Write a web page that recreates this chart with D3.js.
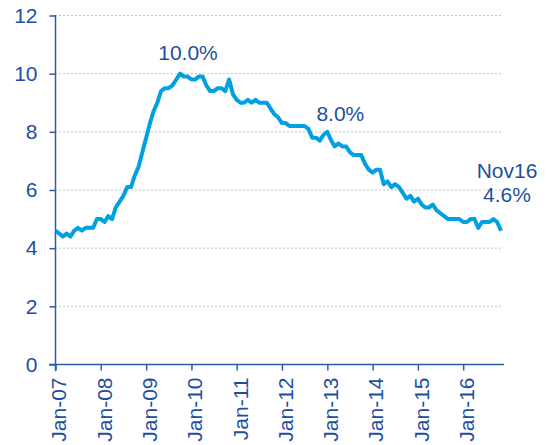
<!DOCTYPE html>
<html>
<head>
<meta charset="utf-8">
<script src="https://cdn.jsdelivr.net/npm/d3@7"></script>
<style>
  body { margin: 0; background: #fff; }
  svg { display: block; font-family: "Liberation Sans", Arial, sans-serif; }
</style>
</head>
<body>
<svg id="chart" width="550" height="445"></svg>
<script>
// US unemployment rate, monthly, Jan 2007 - Nov 2016 (%)
const startYear = 2007;
const rates = [
  4.6, 4.5, 4.4, 4.5, 4.4, 4.6, 4.7, 4.6, 4.7, 4.7, 4.7, 5.0,
  5.0, 4.9, 5.1, 5.0, 5.4, 5.6, 5.8, 6.1, 6.1, 6.5, 6.8, 7.3,
  7.8, 8.3, 8.7, 9.0, 9.4, 9.5, 9.5, 9.6, 9.8, 10.0, 9.9, 9.9,
  9.8, 9.8, 9.9, 9.9, 9.6, 9.4, 9.4, 9.5, 9.5, 9.4, 9.8, 9.3,
  9.1, 9.0, 9.0, 9.1, 9.0, 9.1, 9.0, 9.0, 9.0, 8.8, 8.6, 8.5,
  8.3, 8.3, 8.2, 8.2, 8.2, 8.2, 8.2, 8.1, 7.8, 7.8, 7.7, 7.9,
  8.0, 7.7, 7.5, 7.6, 7.5, 7.5, 7.3, 7.2, 7.2, 7.2, 6.9, 6.7,
  6.6, 6.7, 6.7, 6.2, 6.3, 6.1, 6.2, 6.1, 5.9, 5.7, 5.8, 5.6,
  5.7, 5.5, 5.4, 5.4, 5.5, 5.3, 5.2, 5.1, 5.0, 5.0, 5.0, 5.0,
  4.9, 4.9, 5.0, 5.0, 4.7, 4.9, 4.9, 4.9, 5.0, 4.9, 4.6
];
const yTicks = [0, 2, 4, 6, 8, 10, 12];
const tickYears = [2007, 2008, 2009, 2010, 2011, 2012, 2013, 2014, 2015, 2016];
const callouts = [
  { date: [2009, 9], lines: ['10.0%'], dx: 8, dy: -14 },
  { date: [2013, 0], lines: ['8.0%'], dx: 13, dy: -11 },
  { date: [2016, 10], lines: ['Nov16', '4.6%'], dx: 6, dy: -53 }
];

const series = rates.map((v, i) => ({ date: new Date(startYear, i, 1), value: v }));

const TEXT = '#1e4f9f';
const AXIS = '#2a5caa';
const LINE = '#00a0e3';
const FONT_SIZE = '21px';

const svg = d3.select('#chart');
const x = d3.scaleTime()
  .domain([new Date(2007, 0, 1), new Date(2016, 10, 1)])
  .range([55.5, 501]);
const y = d3.scaleLinear().domain([0, 12]).range([364.5, 15.5]);

// dotted gridlines
svg.append('g')
  .selectAll('line')
  .data(yTicks.filter((d) => d > 0))
  .join('line')
  .attr('x1', 55).attr('x2', 503)
  .attr('y1', (d) => y(d)).attr('y2', (d) => y(d))
  .style('stroke', '#c4c4c4')
  .style('stroke-width', 1)
  .style('stroke-dasharray', '2,2');

// y axis
const yAxis = svg.append('g')
  .attr('transform', 'translate(55.5,0)')
  .call(d3.axisLeft(y).tickValues(yTicks).tickSize(6).tickPadding(12));
yAxis.select('.domain').remove();
yAxis.append('line')
  .attr('y1', 15).attr('y2', 371)
  .style('stroke', AXIS).style('stroke-width', 1.5);
yAxis.selectAll('.tick line').style('stroke', AXIS).style('stroke-width', 1.5);
yAxis.selectAll('.tick text')
  .style('fill', TEXT)
  .style('font-size', FONT_SIZE)
  .style('font-family', '"Liberation Sans", Arial, sans-serif');

// x axis
const xAxis = svg.append('g')
  .attr('transform', 'translate(0,364.5)')
  .call(d3.axisBottom(x)
    .tickValues(tickYears.map((yr) => new Date(yr, 0, 1)))
    .tickSize(6)
    .tickFormat(d3.timeFormat('Jan-%y')));
xAxis.select('.domain').remove();
xAxis.append('line')
  .attr('x1', 49).attr('x2', 504)
  .style('stroke', AXIS).style('stroke-width', 1.5);
xAxis.selectAll('.tick line').style('stroke', AXIS).style('stroke-width', 1.5);
xAxis.selectAll('.tick text')
  .attr('transform', 'rotate(-90) translate(0,3)')
  .attr('x', -13)
  .attr('y', 0)
  .attr('dy', '0.35em')
  .style('text-anchor', 'end')
  .style('fill', TEXT)
  .style('font-size', FONT_SIZE)
  .style('font-family', '"Liberation Sans", Arial, sans-serif');

// the series line
svg.append('path')
  .datum(series)
  .attr('d', d3.line().x((d) => x(d.date)).y((d) => y(d.value)))
  .style('fill', 'none')
  .style('stroke', LINE)
  .style('stroke-width', 4)
  .style('stroke-linejoin', 'round');

// value callouts
callouts.forEach((c) => {
  const d = new Date(c.date[0], c.date[1], 1);
  const pt = series.find((s) => +s.date === +d);
  const t = svg.append('text')
    .attr('text-anchor', 'middle')
    .style('fill', TEXT)
    .style('font-size', FONT_SIZE);
  c.lines.forEach((ln, i) => {
    t.append('tspan')
      .attr('x', x(d) + c.dx)
      .attr('y', y(pt.value) + c.dy + i * 24.5)
      .text(ln);
  });
});
</script>
</body>
</html>
